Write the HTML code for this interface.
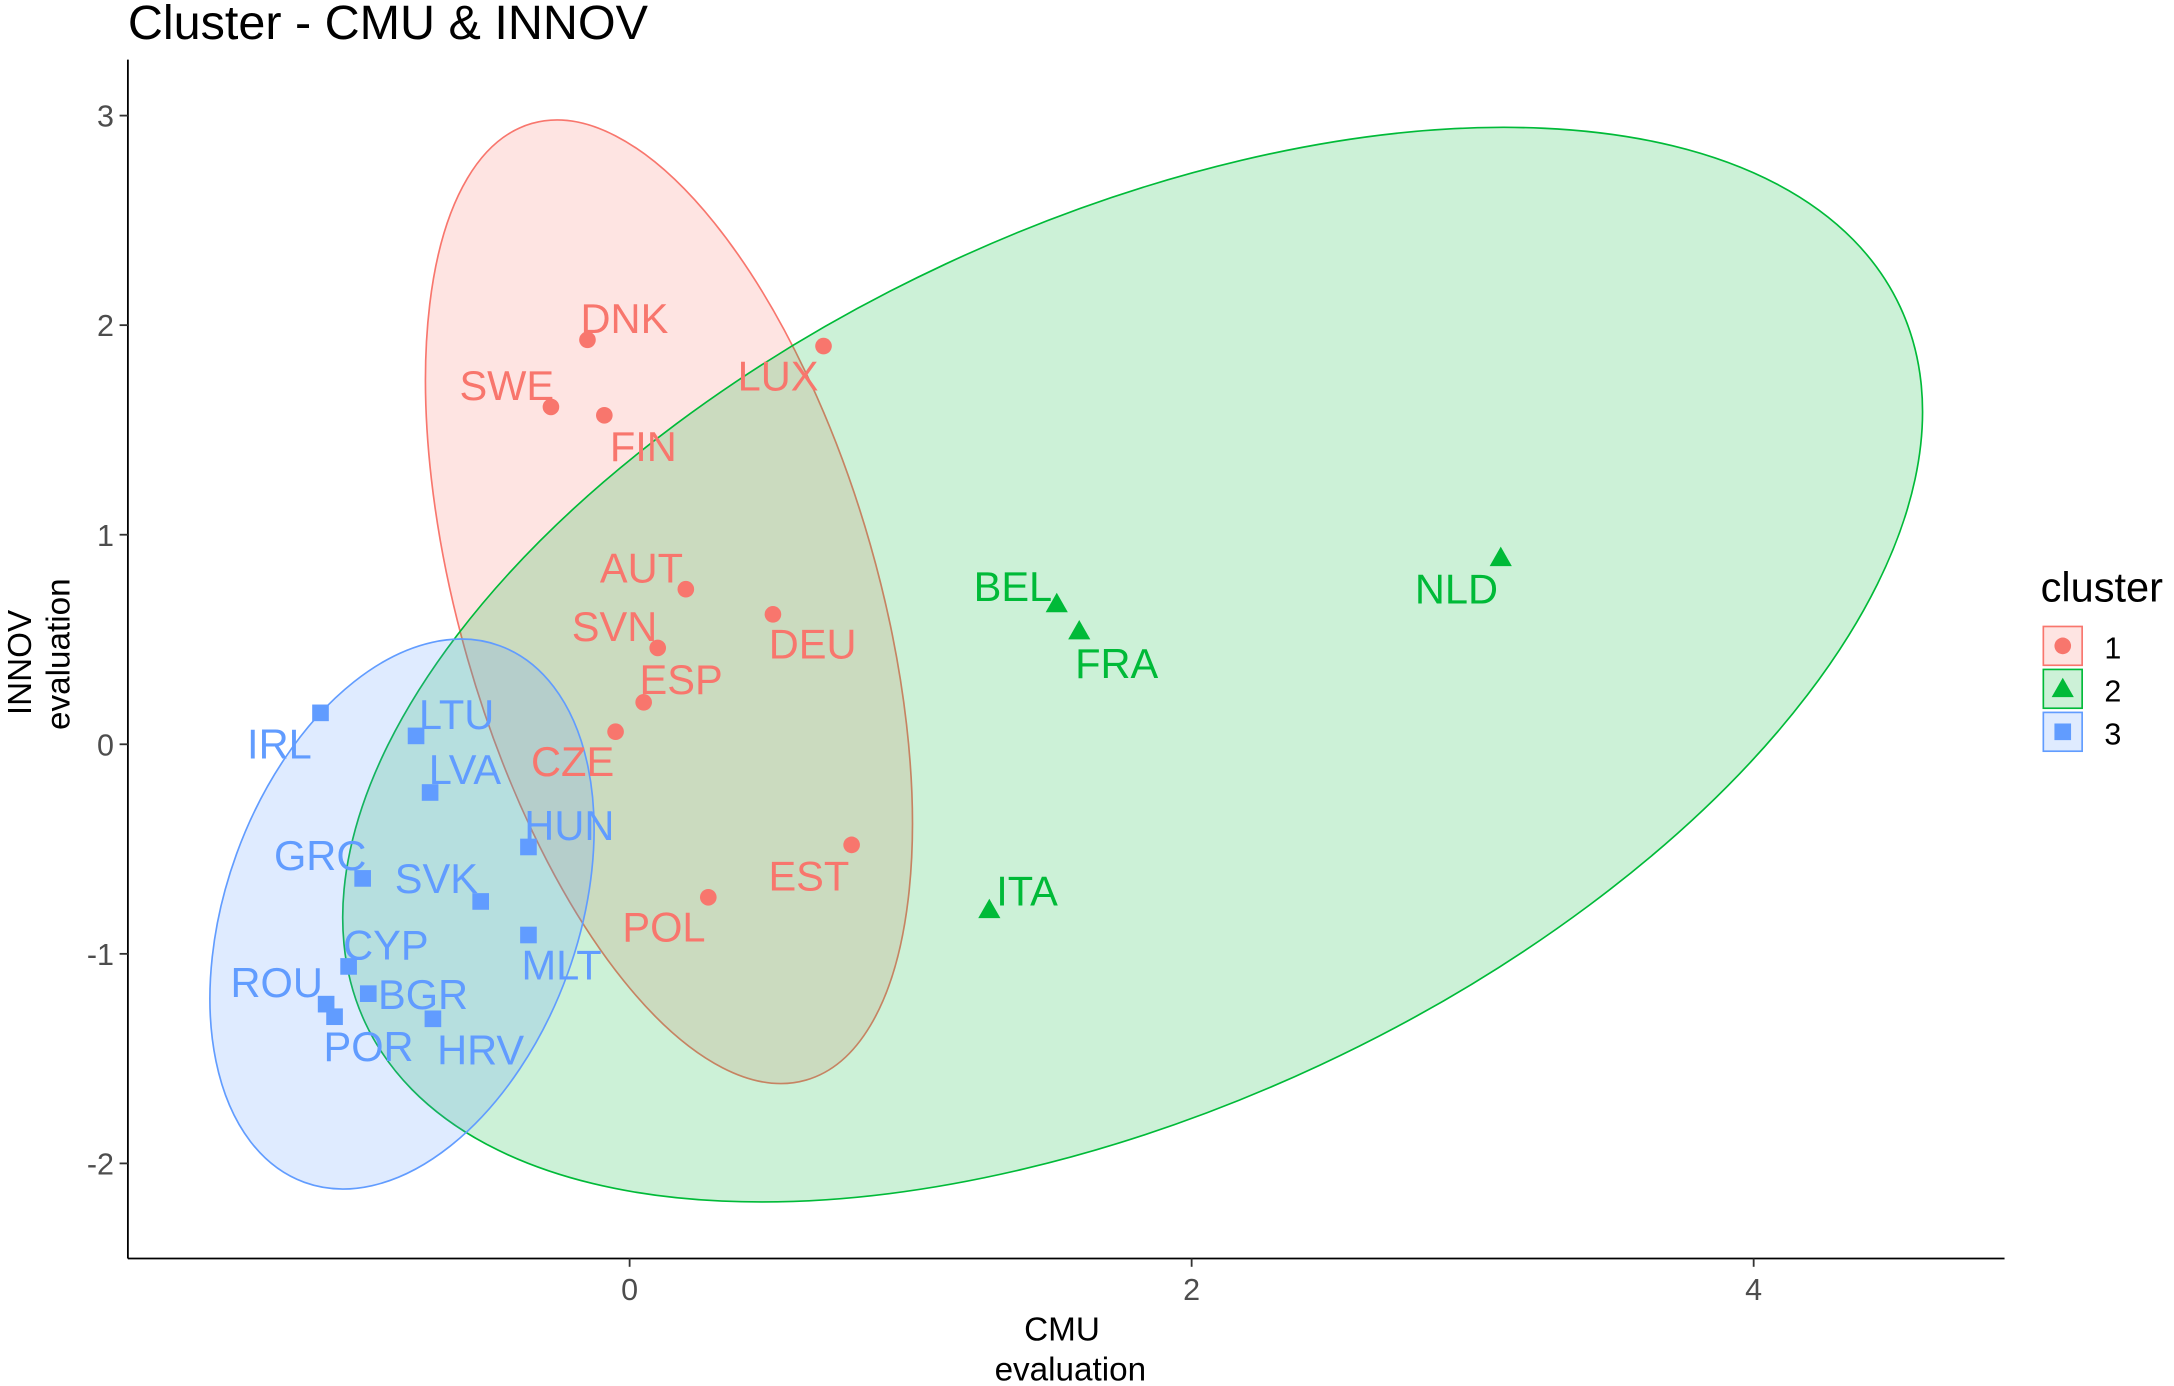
<!DOCTYPE html>
<html><head><meta charset="utf-8"><style>
html,body{margin:0;padding:0;background:#fff;}
svg{display:block;font-family:"Liberation Sans",Arial,sans-serif;}
</style></head><body>
<svg id="chart" width="2174" height="1386" viewBox="0 0 1568 1000" xmlns="http://www.w3.org/2000/svg">
<rect width="1568" height="1000" fill="#fff"/>
<text x="92" y="28" font-size="35" fill="#000">Cluster - CMU &amp; INNOV</text>
<g id="ellipses"></g>
<g id="axes"></g>
<g id="points"></g>
<g id="labels"></g>
<g font-size="24" text-anchor="middle" fill="#000">
<text x="766" y="967">CMU</text><text x="772" y="996">evaluation</text></g>
<g font-size="24" text-anchor="middle" fill="#000">
<text transform="translate(22,478) rotate(-90)">INNOV</text>
<text transform="translate(50,472) rotate(-90)">evaluation</text></g>
<g id="legend">
<text x="1472" y="434" font-size="30" fill="#000">cluster</text>
</g>
</svg>
<script>
const countries=["DNK","LUX","SWE","FIN","AUT","DEU","SVN","ESP","CZE","EST","POL","BEL","FRA","NLD","ITA","IRL","LTU","LVA","HUN","GRC","SVK","MLT","CYP","BGR","ROU","POR","HRV"];
const cmu=[-0.15,0.69,-0.28,-0.09,0.20,0.51,0.10,0.05,-0.05,0.79,0.28,1.52,1.60,3.10,1.28,-1.10,-0.76,-0.71,-0.36,-0.95,-0.53,-0.36,-1.00,-0.93,-1.08,-1.05,-0.70];
const innov=[1.93,1.90,1.61,1.57,0.74,0.62,0.46,0.20,0.06,-0.48,-0.73,0.67,0.54,0.89,-0.79,0.15,0.04,-0.23,-0.49,-0.64,-0.75,-0.91,-1.06,-1.19,-1.24,-1.30,-1.31];
const cluster=[1,1,1,1,1,1,1,1,1,1,1,2,2,2,2,3,3,3,3,3,3,3,3,3,3,3,3];
const xTicks=[0,2,4];
const yTicks=[-2,-1,0,1,2,3];
const clusterIds=[1,2,3];
// ellipse centres (data units)
const ellCx=[0.14,1.79,-0.81];
const ellCy=[0.68,0.38,-0.81];
// label offsets (px)
const ldx=[-5,-62,-66,4,-62,-3,-62,-3,-61,-60,-62,-60,-3,-62,5,-53,2,-1,-3,-64,-62,-5,-4,7,-69,-8,3];
const ldy=[-5,32,-5,33,-5,32,-5,-6,32,33,32,-2,34,33,-3,33,-5,-6,-5,-6,-6,32,-5,11,-5,32,33];
const colors={1:"#F8766D",2:"#00BA38",3:"#619CFF"};
const ellGeom={1:[359,151,74],2:[611,319,-25],3:[206,127,-70]};
const sx=v=>454+v*202.75;
const sy=v=>537-v*151.2;
const NS="http://www.w3.org/2000/svg";
function mk(tag,attrs,parent){const e=document.createElementNS(NS,tag);for(const k in attrs)e.setAttribute(k,attrs[k]);parent.appendChild(e);return e;}
const gE=document.getElementById('ellipses');
clusterIds.forEach((c,i)=>{const g=ellGeom[c];
 const e=mk('ellipse',{cx:sx(ellCx[i]),cy:sy(ellCy[i]),rx:g[0],ry:g[1],transform:`rotate(${g[2]} ${sx(ellCx[i])} ${sy(ellCy[i])})`,fill:colors[c],'fill-opacity':0.2,stroke:colors[c],'stroke-width':1.2},gE);
 
 
});
const gA=document.getElementById('axes');
const xl=mk('line',{x1:92,y1:908,x2:1446,y2:908,stroke:'#000','stroke-width':1.3},gA);


const yl=mk('line',{x1:92,y1:43,x2:92,y2:908,stroke:'#000','stroke-width':1.3},gA);


xTicks.forEach(t=>{mk('line',{x1:sx(t),y1:908,x2:sx(t),y2:914,stroke:'#333','stroke-width':1.3},gA);
 const tx=mk('text',{x:sx(t),y:938,'font-size':22,'text-anchor':'middle',fill:'#4d4d4d'},gA);tx.textContent=t;
 
 });
yTicks.forEach(t=>{mk('line',{x1:86,y1:sy(t),x2:92,y2:sy(t),stroke:'#333','stroke-width':1.3},gA);
 const tx=mk('text',{x:82,y:sy(t)+8,'font-size':22,'text-anchor':'end',fill:'#4d4d4d'},gA);tx.textContent=t;
 
 });
function shape(c,x,y,parent){
 if(c===1)return mk('circle',{cx:x,cy:y,r:6,fill:colors[c]},parent);
 if(c===2)return mk('polygon',{points:`${x},${y-8} ${x+8},${y+6} ${x-8},${y+6}`,fill:colors[c]},parent);
 return mk('rect',{x:x-6,y:y-6,width:12,height:12,fill:colors[c]},parent);}
const gP=document.getElementById('points'),gL=document.getElementById('labels');
countries.forEach((n,i)=>{const x=sx(cmu[i]),y=sy(innov[i]),c=cluster[i];
 const p=shape(c,x,y,gP);
 
 
 const t=mk('text',{x:x+ldx[i],y:y+ldy[i],'font-size':30,fill:colors[c]},gL);t.textContent=n;
 
 
});
const gLeg=document.getElementById('legend');
clusterIds.forEach((c,i)=>{const y=452+i*31;
 const r=mk('rect',{x:1474,y:y,width:28,height:28,fill:colors[c],'fill-opacity':0.2,stroke:colors[c],'stroke-width':1.2},gLeg);
 
 
 shape(c,1488,y+14,gLeg);
 const t=mk('text',{x:1518,y:y+23,'font-size':22,fill:'#000'},gLeg);t.textContent=c;
 
 
});
</script>
</body></html>
